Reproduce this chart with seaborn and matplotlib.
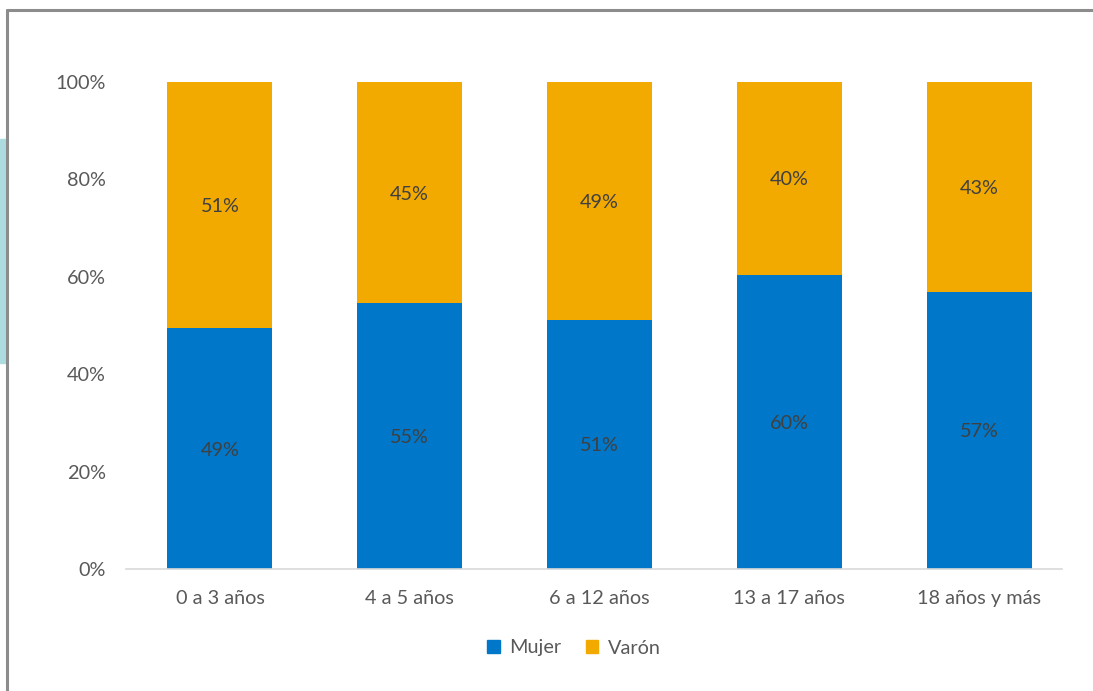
import numpy as np
import pandas as pd
import matplotlib
matplotlib.use("Agg")
import matplotlib.pyplot as plt
import seaborn as sns
from matplotlib.patches import Rectangle
from matplotlib.lines import Line2D
from matplotlib.ticker import FuncFormatter

# ---- data ----
categories = ["0 a 3 años", "4 a 5 años", "6 a 12 años", "13 a 17 años", "18 años y más"]
mujer = [49.4, 54.6, 51.2, 60.4, 56.9]
varon = [50.6, 45.4, 48.8, 39.6, 43.1]
series_names = ["Mujer", "Varón"]
yticks = [0, 20, 40, 60, 80, 100]

BLUE = "#0077C8"
ORANGE = "#F2AA00"

sns.set_theme(style="white")
plt.rcParams["font.family"] = ["Lato", "DejaVu Sans"]

fig = plt.figure(figsize=(10.93, 6.91), dpi=100)
W, H = 1093, 691
ax = fig.add_axes([126 / W, (H - 569) / H, (1062 - 126) / W, (569 - 82) / H])

df = pd.DataFrame({"cat": categories, "Mujer": mujer, "Varón": varon})
df["total"] = df["Mujer"] + df["Varón"]

BW = 0.553
sns.barplot(data=df, x="cat", y="total", color=ORANGE, width=BW, ax=ax,
            saturation=1, edgecolor="none")
sns.barplot(data=df, x="cat", y="Mujer", color=BLUE, width=BW, ax=ax,
            saturation=1, edgecolor="none")

FS = 14.3
# data labels
for i, (m, v) in enumerate(zip(mujer, varon)):
    ax.text(i, m / 2, f"{round(m):.0f}%", ha="center", va="center_baseline",
            fontsize=FS, color="#404040")
    ax.text(i, m + v / 2, f"{round(v):.0f}%", ha="center", va="center_baseline",
            fontsize=FS, color="#404040")

ax.set_ylim(0, 100)
ax.set_xlim(-0.495, 4.437)
ax.set_yticks(yticks)
ax.yaxis.set_major_formatter(FuncFormatter(lambda v, p: f"{v:.0f}%"))
ax.set_xlabel("")
ax.set_ylabel("")
ax.tick_params(axis="y", length=0, pad=14.4, labelsize=FS, labelcolor="#595959")
ax.tick_params(axis="x", length=0, pad=15, labelsize=FS, labelcolor="#595959")
for s in ["top", "right", "left"]:
    ax.spines[s].set_visible(False)
ax.spines["bottom"].set_color("#D9D9D9")
ax.spines["bottom"].set_linewidth(1.2)

# legend
handles = [Rectangle((0, 0), 1, 1, color=BLUE), Rectangle((0, 0), 1, 1, color=ORANGE)]
fig.legend(handles, series_names, loc="center", bbox_to_anchor=(574 / W, (H - 648) / H),
           ncol=2, frameon=False, fontsize=FS, handlelength=0.65, handleheight=0.65,
           handletextpad=0.5, columnspacing=1.2, labelcolor="#595959")

# frame decorations
fig.patches.append(Rectangle((0, (H - 363) / H), 6 / W, 224 / H, transform=fig.transFigure,
                             color="#ADDCE0", zorder=0))
fig.lines.append(Line2D([7 / W, 7 / W], [0, (H - 10) / H], transform=fig.transFigure,
                        color="#8C8C8C", linewidth=2.2))
fig.lines.append(Line2D([7 / W, 1], [(H - 10) / H, (H - 10) / H], transform=fig.transFigure,
                        color="#8C8C8C", linewidth=2.2))

fig.savefig("out.png", dpi=100, facecolor="white")
